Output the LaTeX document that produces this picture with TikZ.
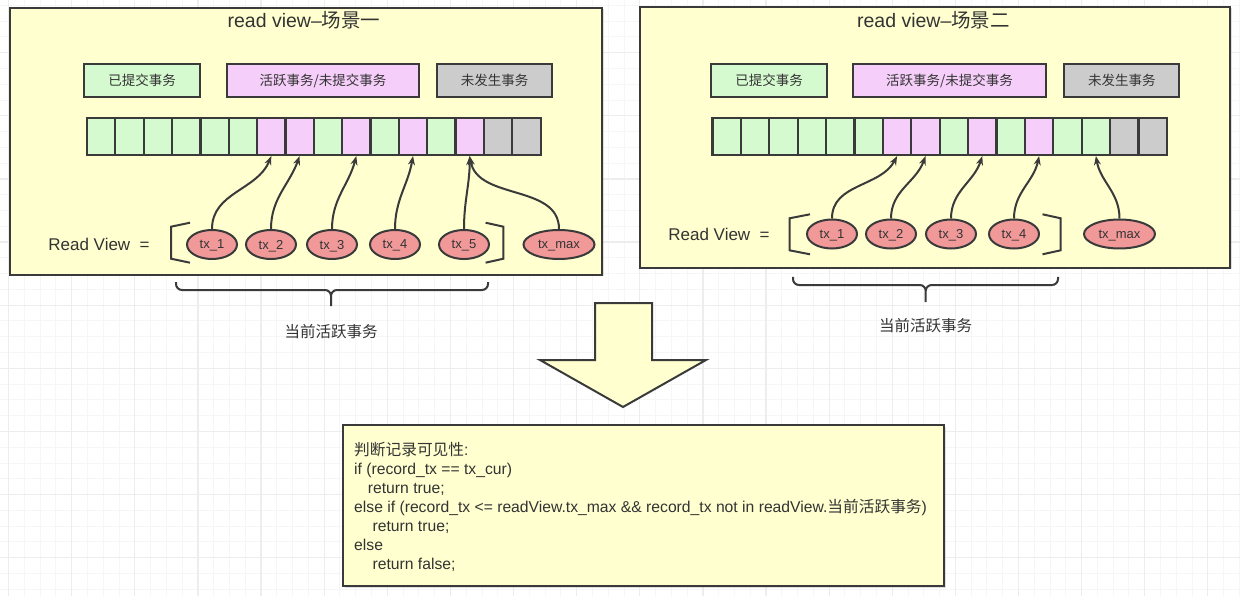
\documentclass[tikz,border=0pt]{standalone}
\usepackage{fontspec}
\setmainfont{Liberation Sans}
\newfontfamily\cjk{Noto Sans CJK SC}
\usepackage{xcolor}
\definecolor{pyellow}{RGB}{255,255,208}
\definecolor{cgreen}{RGB}{214,250,208}
\definecolor{cpink}{RGB}{245,206,250}
\definecolor{cgray}{RGB}{204,204,204}
\definecolor{txred}{RGB}{241,153,153}
\definecolor{edge}{RGB}{58,58,58}
\definecolor{inkgray}{RGB}{51,51,51}
\definecolor{gridminor}{RGB}{246,246,246}
\definecolor{gridmajor}{RGB}{237,237,237}
\usepackage{tikz}
\usetikzlibrary{positioning}
\usetikzlibrary{arrows.meta}
\usetikzlibrary{shapes.geometric}
\usetikzlibrary{shadows}

\begin{document}
\begin{tikzpicture}[x=1pt, y=-1pt,
    panel/.style={draw=edge, line width=2pt, fill=pyellow, anchor=north west, inner sep=0pt,
        drop shadow={opacity=.25, shadow xshift=1.5pt, shadow yshift=-1.5pt}},
    title/.style={text=inkgray, font=\fontsize{19.5}{23}\selectfont},
    legend/.style={draw=edge, line width=2pt, minimum height=33pt, inner sep=0pt, text=inkgray,
        font=\fontsize{13.5}{16}\selectfont\cjk},
    cell/.style={draw=edge, line width=2.2pt, minimum width=28.35pt, minimum height=37pt, inner sep=0pt},
    tx/.style={ellipse, draw=edge, line width=2pt, fill=txred, minimum width=50pt, minimum height=29pt,
        inner sep=0pt, text depth=0pt, text=inkgray, font=\fontsize{13}{15}\selectfont},
    txwide/.style={tx, minimum width=71pt},
    rv/.style={text=inkgray, font=\fontsize{17}{20}\selectfont},
    note/.style={text=inkgray, font=\fontsize{15.5}{18}\selectfont\cjk},
    code/.style={anchor=north west, align=left, inner sep=0pt, text=inkgray, font=\fontsize{15.7}{19}\selectfont},
    link/.style={-{Stealth[length=9pt, width=7pt]}, draw=edge, line width=2pt},
    bracket/.style={draw=edge, line width=2pt},
    curly/.style={draw=edge, line width=2pt, rounded corners=6pt},
    bigarrow/.style={draw=edge, line width=2pt, fill=pyellow, line join=miter},
]
\useasboundingbox (0,0) rectangle (1240,596);
\fill[white] (0,0) rectangle (1240,596);

% background grid
\foreach \k in {0,...,78}
    \draw[gridminor, line width=1pt] ({8.6+15.78*\k},0) -- ({8.6+15.78*\k},596);
\foreach \k in {0,...,38}
    \draw[gridminor, line width=1pt] (0,{-10.4+15.78*\k}) -- (1240,{-10.4+15.78*\k});
\foreach \k in {0,...,19}
    \draw[gridmajor, line width=1.2pt] ({8.6+63.12*\k},0) -- ({8.6+63.12*\k},596);
\foreach \k in {0,...,9}
    \draw[gridmajor, line width=1.2pt] (0,{-10.4+63.12*\k}) -- (1240,{-10.4+63.12*\k});

%% scene one
\node[panel, minimum width=592pt, minimum height=267pt] (panel_one) at (9,7) {};
\node[title] (title_one) at (304,20) {read view--{\cjk 场景一}};
\node[legend, fill=cgreen, minimum width=116pt] (done_one) at (142,80.5) {已提交事务};
\node[legend, fill=cpink, minimum width=192pt, right=25pt of done_one] (active_one) {活跃事务/未提交事务};
\node[legend, fill=cgray, minimum width=115pt, right=16pt of active_one] (future_one) {未发生事务};

\foreach \c [count=\i] in {cgreen,cgreen,cgreen,cgreen,cgreen,cgreen,cpink,cpink,cgreen,cpink,cgreen,cpink,cgreen,cpink,cgray,cgray}
    \node[cell, fill=\c] (cell_one\i) at ({87+28.35*(\i-0.5)},136.5) {};

\node[rv] (rv_one) at (99,244) {Read View\ \ =};
\node[tx] (one_tx1) at (212,244.5) {tx\_1};
\node[tx] (one_tx2) at (271,244.5) {tx\_2};
\node[tx] (one_tx3) at (332,244.5) {tx\_3};
\node[tx] (one_tx4) at (395,244.5) {tx\_4};
\node[tx] (one_tx5) at (464,244.5) {tx\_5};
\node[txwide] (one_txmax) at (559,244.5) {tx\_max};

\draw[bracket] (190,222.7) -- (171,226.7) -- (171,258.7) -- (190,262.7);
\draw[bracket] (485.6,222.7) -- (503.4,226.7) -- (503.4,258.7) -- (485.6,262.7);

\draw[link] (one_tx1.north) to[out=90, in=-112] (cell_one7.south);
\draw[link] (one_tx2.north) to[out=90, in=-110] (cell_one8.south);
\draw[link] (one_tx3.north) to[out=90, in=-105] (cell_one10.south);
\draw[link] (one_tx4.north) to[out=90, in=-100] (cell_one12.south);
\draw[link] (one_tx5.north) to[out=90, in=-90] (cell_one14.south);
\draw[link] (one_txmax.north) to[out=90, in=-80] (cell_one14.south);

\draw[curly] (176,282) |- (331,290) -- (331,306) (488,282) |- (331,290) -- (331,306);
\node[note] (note_one) at (331,332) {当前活跃事务};

%% scene two
\node[panel, minimum width=590.5pt, minimum height=261pt] (panel_two) at (638.5,6) {};
\node[title] (title_two) at (933.5,20) {read view--{\cjk 场景二}};
\node[legend, fill=cgreen, minimum width=115.5pt] (done_two) at (769,80.5) {已提交事务};
\node[legend, fill=cpink, minimum width=192.5pt, right=24.5pt of done_two] (active_two) {活跃事务/未提交事务};
\node[legend, fill=cgray, minimum width=115pt, right=16.5pt of active_two] (future_two) {未发生事务};

\foreach \c [count=\i] in {cgreen,cgreen,cgreen,cgreen,cgreen,cgreen,cpink,cpink,cgreen,cpink,cgreen,cpink,cgreen,cgreen,cgray,cgray}
    \node[cell, fill=\c] (cell_two\i) at ({712.5+28.4*(\i-0.5)},136.5) {};

\node[rv] (rv_two) at (719,234) {Read View\ \ =};
\node[tx] (two_tx1) at (832,234) {tx\_1};
\node[tx] (two_tx2) at (891,234) {tx\_2};
\node[tx] (two_tx3) at (951,234) {tx\_3};
\node[tx] (two_tx4) at (1014,234) {tx\_4};
\node[txwide] (two_txmax) at (1119.5,234) {tx\_max};

\draw[bracket] (810,214.3) -- (789.5,218.3) -- (789.5,250.3) -- (810,254.3);
\draw[bracket] (1042.5,214.3) -- (1060.7,218.3) -- (1060.7,250.3) -- (1042.5,254.3);

\draw[link] (two_tx1.north) to[out=90, in=-118] (cell_two7.south);
\draw[link] (two_tx2.north) to[out=90, in=-110] (cell_two8.south);
\draw[link] (two_tx3.north) to[out=90, in=-108] (cell_two10.south);
\draw[link] (two_tx4.north) to[out=90, in=-102] (cell_two12.south);
\draw[link] (two_txmax.north) to[out=90, in=-80] (cell_two14.south);

\draw[curly] (793,277) |- (925.7,285) -- (925.7,302) (1058,277) |- (925.7,285) -- (925.7,302);
\node[note] (note_two) at (925.7,325.7) {当前活跃事务};

%% visibility rule
\draw[bigarrow] (595,303) -- (652,303) -- (652,360) -- (706,360) -- (623,407) -- (540,360) -- (595,360) -- cycle;

\node[panel, minimum width=601pt, minimum height=161pt, drop shadow={opacity=0}] (rule) at (342,424) {};
\node[code] (rule_text) at (354,442) {{\cjk 判断记录可见性}:\\
if (record\_tx == tx\_cur)\\
\hspace*{13.7pt}return true;\\
else if (record\_tx <= readView.tx\_max \&\& record\_tx not in readView.{\cjk 当前活跃事务})\\
\hspace*{18.4pt}return true;\\
else\\
\hspace*{18.4pt}return false;};

\end{tikzpicture}
\end{document}
